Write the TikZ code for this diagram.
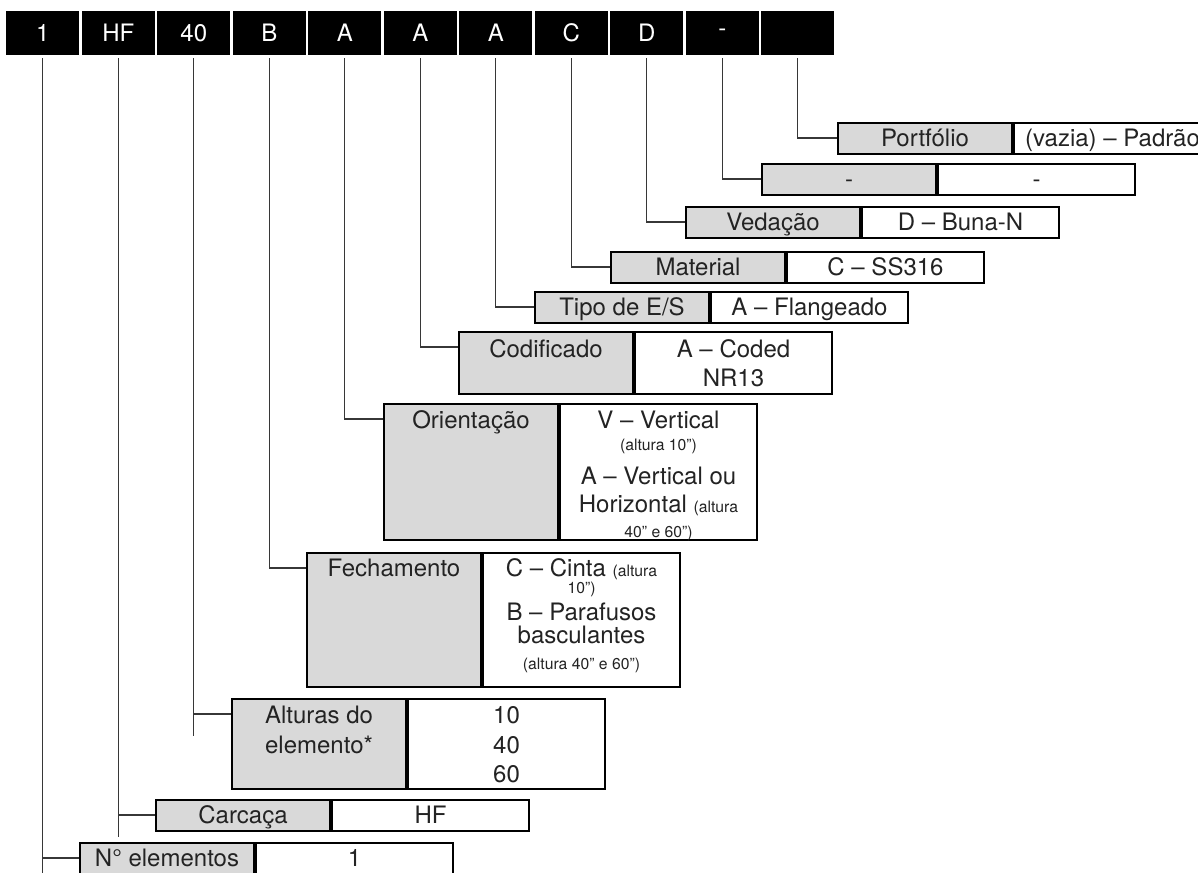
\documentclass[tikz,border=0pt]{standalone}
\usepackage{fontspec}
\setmainfont{TeX Gyre Heros}
\usetikzlibrary{positioning}
\definecolor{keygray}{RGB}{217,217,217}
\definecolor{linegray}{RGB}{55,55,55}
\definecolor{ink}{RGB}{35,35,35}
\newcommand{\bigtxt}{\fontsize{18}{21}\selectfont}
\newcommand{\smalltxt}[1]{{\fontsize{11.8}{13}\selectfont #1}}

\begin{document}
\begin{tikzpicture}[x=0.75pt, y=-0.75pt,
    cell/.style={rectangle, fill=black, text=white, inner sep=0, minimum width=55.1pt, minimum height=33pt, font=\fontsize{18}{21}\selectfont},
    key/.style={rectangle, draw=black, line width=1.5pt, fill=keygray, text=ink, anchor=north west, inner sep=0, minimum width=130.5pt, minimum height=23.25pt, text height=14pt, text depth=1.75pt, font=\bigtxt},
    val/.style={key, fill=white, minimum width=147.75pt},
    txt/.style={inner sep=0, anchor=base, text=ink, font=\bigtxt},
    sm/.style={txt, font=\fontsize{11.8}{13}\selectfont},
    link/.style={draw=linegray, line width=0.9pt}]

  \useasboundingbox (0,0) rectangle (1198,873);

  % code cells
  \foreach \t [count=\i] in {1,HF,40,B,A,A,A,C,D,-,{}}
    \node (c\i) [cell] at ({42.75+75.5*(\i-1)},33) {\t};

  % one-line boxes
  \node (port-k) [key] at (837,122) {Portfólio};
  \node (port-v) [val] at (port-k.north east) {(vazia) – Padrão};
  \node (dash-k) [key] at (761,163) {-};
  \node (dash-v) [val] at (dash-k.north east) {-};
  \node (ved-k) [key] at (685,206) {Vedação};
  \node (ved-v) [val] at (ved-k.north east) {D – Buna-N};
  \node (mat-k) [key] at (610,251) {Material};
  \node (mat-v) [val] at (mat-k.north east) {C – SS316};
  \node (tipo-k) [key] at (534,291) {Tipo de E/S};
  \node (tipo-v) [val] at (tipo-k.north east) {A – Flangeado};

  % Codificado
  \node (cod-k) [key, minimum height=46.5pt] at (458,331) {};
  \node (cod-v) [val, minimum height=46.5pt] at (cod-k.north east) {};
  \node (cod-kt) [txt] at ([yshift=-19.5pt]cod-k.north) {Codificado};
  \node (cod-v1) [txt] at ([yshift=-19.5pt]cod-v.north) {A – Coded};
  \node (cod-v2) [txt] at ([yshift=-21.75pt]cod-v1.base) {NR13};

  % Orientacao
  \node (ori-k) [key, minimum height=102pt] at (383,403) {};
  \node (ori-v) [val, minimum height=102pt] at (ori-k.north east) {};
  \node (ori-kt) [txt] at ([yshift=-18.75pt]ori-k.north) {Orientação};
  \node (ori-v1) [txt] at ([yshift=-18.75pt]ori-v.north) {V – Vertical};
  \node (ori-v2) [sm] at ([yshift=-16.5pt]ori-v1.base) {(altura 10”)};
  \node (ori-v3) [txt] at ([yshift=-25.5pt]ori-v2.base) {A – Vertical ou};
  \node (ori-v4) [txt] at ([yshift=-21pt]ori-v3.base) {Horizontal \smalltxt{(altura}};
  \node (ori-v5) [sm] at ([yshift=-18.75pt]ori-v4.base) {40” e 60”)};

  % Fechamento
  \node (fech-k) [key, minimum height=100.5pt] at (306,552) {};
  \node (fech-v) [val, minimum height=100.5pt] at (fech-k.north east) {};
  \node (fech-kt) [txt] at ([yshift=-18pt]fech-k.north) {Fechamento};
  \node (fech-v1) [txt] at ([yshift=-18pt]fech-v.north) {C – Cinta \smalltxt{(altura}};
  \node (fech-v2) [sm] at ([yshift=-12.75pt]fech-v1.base) {10”)};
  \node (fech-v3) [txt] at ([yshift=-20.25pt]fech-v2.base) {B – Parafusos};
  \node (fech-v4) [txt] at ([yshift=-17.25pt]fech-v3.base) {basculantes};
  \node (fech-v5) [sm] at ([yshift=-19.5pt]fech-v4.base) {(altura 40” e 60”)};

  % Alturas
  \node (alt-k) [key, minimum height=67.5pt] at (231,698) {};
  \node (alt-v) [val, minimum height=67.5pt] at (alt-k.north east) {};
  \node (alt-kt1) [txt] at ([yshift=-18.75pt]alt-k.north) {Alturas do};
  \node (alt-kt2) [txt] at ([yshift=-22.5pt]alt-kt1.base) {elemento*};
  \node (alt-v1) [txt] at ([yshift=-18.75pt]alt-v.north) {10};
  \node (alt-v2) [txt] at ([yshift=-22.5pt]alt-v1.base) {40};
  \node (alt-v3) [txt] at ([yshift=-21.75pt]alt-v2.base) {60};

  \node (carc-k) [key] at (155,799) {Carcaça};
  \node (carc-v) [val] at (carc-k.north east) {HF};
  \node (num-k) [key] at (79,842) {N° elementos};
  \node (num-v) [val] at (num-k.north east) {1};

  % connectors
  \foreach \i/\b in {1/num,2/carc,3/alt,4/fech,5/ori,6/cod,7/tipo,8/mat,9/ved,10/dash,11/port}
    \draw[link] ([yshift=-2.25pt]c\i.south) |- ([yshift=-12pt]\b-k.north west);

  \coordinate (end-1) at (c1.south |- 0,873);
  \coordinate (end-2) at (c2.south |- 0,837);
  \coordinate (end-3) at (c3.south |- 0,736);
  \foreach \i in {1,2,3}
    \draw[link] ([yshift=-2.25pt]c\i.south) -- (end-\i);
\end{tikzpicture}
\end{document}
